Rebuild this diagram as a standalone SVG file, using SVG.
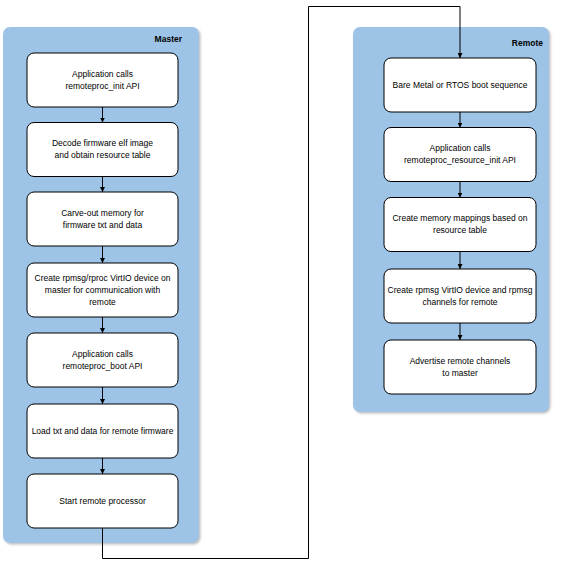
<svg xmlns="http://www.w3.org/2000/svg" width="562" height="568" viewBox="0 0 562 568">
<style>
.cont{fill:#9DC3E6;}
.shadow{fill:#bdbdbd;filter:url(#blur);}
.node{fill:#ffffff;stroke:#000000;stroke-width:1;}
.t{font-family:"Liberation Sans",Arial,sans-serif;font-size:8.5px;fill:#000000;text-anchor:middle;}
.h{font-family:"Liberation Sans",Arial,sans-serif;font-size:8.5px;font-weight:bold;fill:#000000;text-anchor:end;}
.c{fill:none;stroke:#000000;stroke-width:1;}
</style>
<defs>
<filter id="blur" x="-5%" y="-5%" width="110%" height="110%"><feGaussianBlur stdDeviation="1"/></filter>
<marker id="arr" viewBox="0 0 10 10" refX="10" refY="5" markerWidth="5" markerHeight="5" orient="auto" markerUnits="userSpaceOnUse">
<path d="M0,0 L10,5 L0,10 z" fill="#000000"/>
</marker>
</defs>
<g id="master">
<rect class="shadow" x="4.5" y="28.5" width="196" height="516" rx="7"/>
<rect class="cont" x="3" y="27" width="196" height="516" rx="7"/>
<text class="h" x="182" y="42">Master</text>
</g>
<g id="remote">
<rect class="shadow" x="354.5" y="28.5" width="196" height="385" rx="7"/>
<rect class="cont" x="353" y="27" width="196" height="385" rx="7"/>
<text class="h" x="543" y="46">Remote</text>
</g>
<g id="m1"><rect class="node" x="27" y="53" width="151" height="54" rx="7"/>
<text class="t" x="102.5" y="77">Application calls</text><text class="t" x="102.5" y="89">remoteproc_init API</text></g>
<g id="m2"><rect class="node" x="27" y="122.5" width="151" height="54" rx="7"/>
<text class="t" x="102.5" y="146">Decode firmware elf image</text><text class="t" x="102.5" y="158">and obtain resource table</text></g>
<g id="m3"><rect class="node" x="27" y="192" width="151" height="54" rx="7"/>
<text class="t" x="102.5" y="216">Carve-out memory for</text><text class="t" x="102.5" y="228">firmware txt and data</text></g>
<g id="m4"><rect class="node" x="27" y="263" width="151" height="54" rx="7"/>
<text class="t" x="102.5" y="281">Create rpmsg/rproc VirtIO device on</text><text class="t" x="102.5" y="293">master for communication with</text><text class="t" x="102.5" y="305">remote</text></g>
<g id="m5"><rect class="node" x="27" y="333" width="151" height="54" rx="7"/>
<text class="t" x="102.5" y="357">Application calls</text><text class="t" x="102.5" y="369">remoteproc_boot API</text></g>
<g id="m6"><rect class="node" x="27" y="404" width="151" height="54" rx="7"/>
<text class="t" x="102.5" y="434">Load txt and data for remote firmware</text></g>
<g id="m7"><rect class="node" x="27" y="474" width="151" height="54" rx="7"/>
<text class="t" x="102.5" y="504">Start remote processor</text></g>
<g id="r1"><rect class="node" x="384" y="58" width="152" height="54" rx="7"/>
<text class="t" x="460" y="88">Bare Metal or RTOS boot sequence</text></g>
<g id="r2"><rect class="node" x="384" y="127.5" width="152" height="54" rx="7"/>
<text class="t" x="460" y="151">Application calls</text><text class="t" x="460" y="163">remoteproc_resource_init API</text></g>
<g id="r3"><rect class="node" x="384" y="197.5" width="152" height="54" rx="7"/>
<text class="t" x="460" y="221">Create memory mappings based on</text><text class="t" x="460" y="233">resource table</text></g>
<g id="r4"><rect class="node" x="384" y="269" width="152" height="54" rx="7"/>
<text class="t" x="460" y="293">Create rpmsg VirtIO device and rpmsg</text><text class="t" x="460" y="305">channels for remote</text></g>
<g id="r5"><rect class="node" x="384" y="340" width="152" height="54" rx="7"/>
<text class="t" x="460" y="364">Advertise remote channels</text><text class="t" x="460" y="376">to master</text></g>
<g id="connectors">
<line class="c" x1="102.5" y1="107" x2="102.5" y2="122.5" marker-end="url(#arr)"/>
<line class="c" x1="102.5" y1="176.5" x2="102.5" y2="192" marker-end="url(#arr)"/>
<line class="c" x1="102.5" y1="246" x2="102.5" y2="263" marker-end="url(#arr)"/>
<line class="c" x1="102.5" y1="317" x2="102.5" y2="333" marker-end="url(#arr)"/>
<line class="c" x1="102.5" y1="387" x2="102.5" y2="404" marker-end="url(#arr)"/>
<line class="c" x1="102.5" y1="458" x2="102.5" y2="474" marker-end="url(#arr)"/>
<polyline class="c" points="102.5,528 102.5,558.5 308.5,558.5 308.5,6.5 460,6.5 460,58" marker-end="url(#arr)"/>
<line class="c" x1="460" y1="112" x2="460" y2="127.5" marker-end="url(#arr)"/>
<line class="c" x1="460" y1="181.5" x2="460" y2="197.5" marker-end="url(#arr)"/>
<line class="c" x1="460" y1="251.5" x2="460" y2="269" marker-end="url(#arr)"/>
<line class="c" x1="460" y1="323" x2="460" y2="340" marker-end="url(#arr)"/>
</g>
</svg>
